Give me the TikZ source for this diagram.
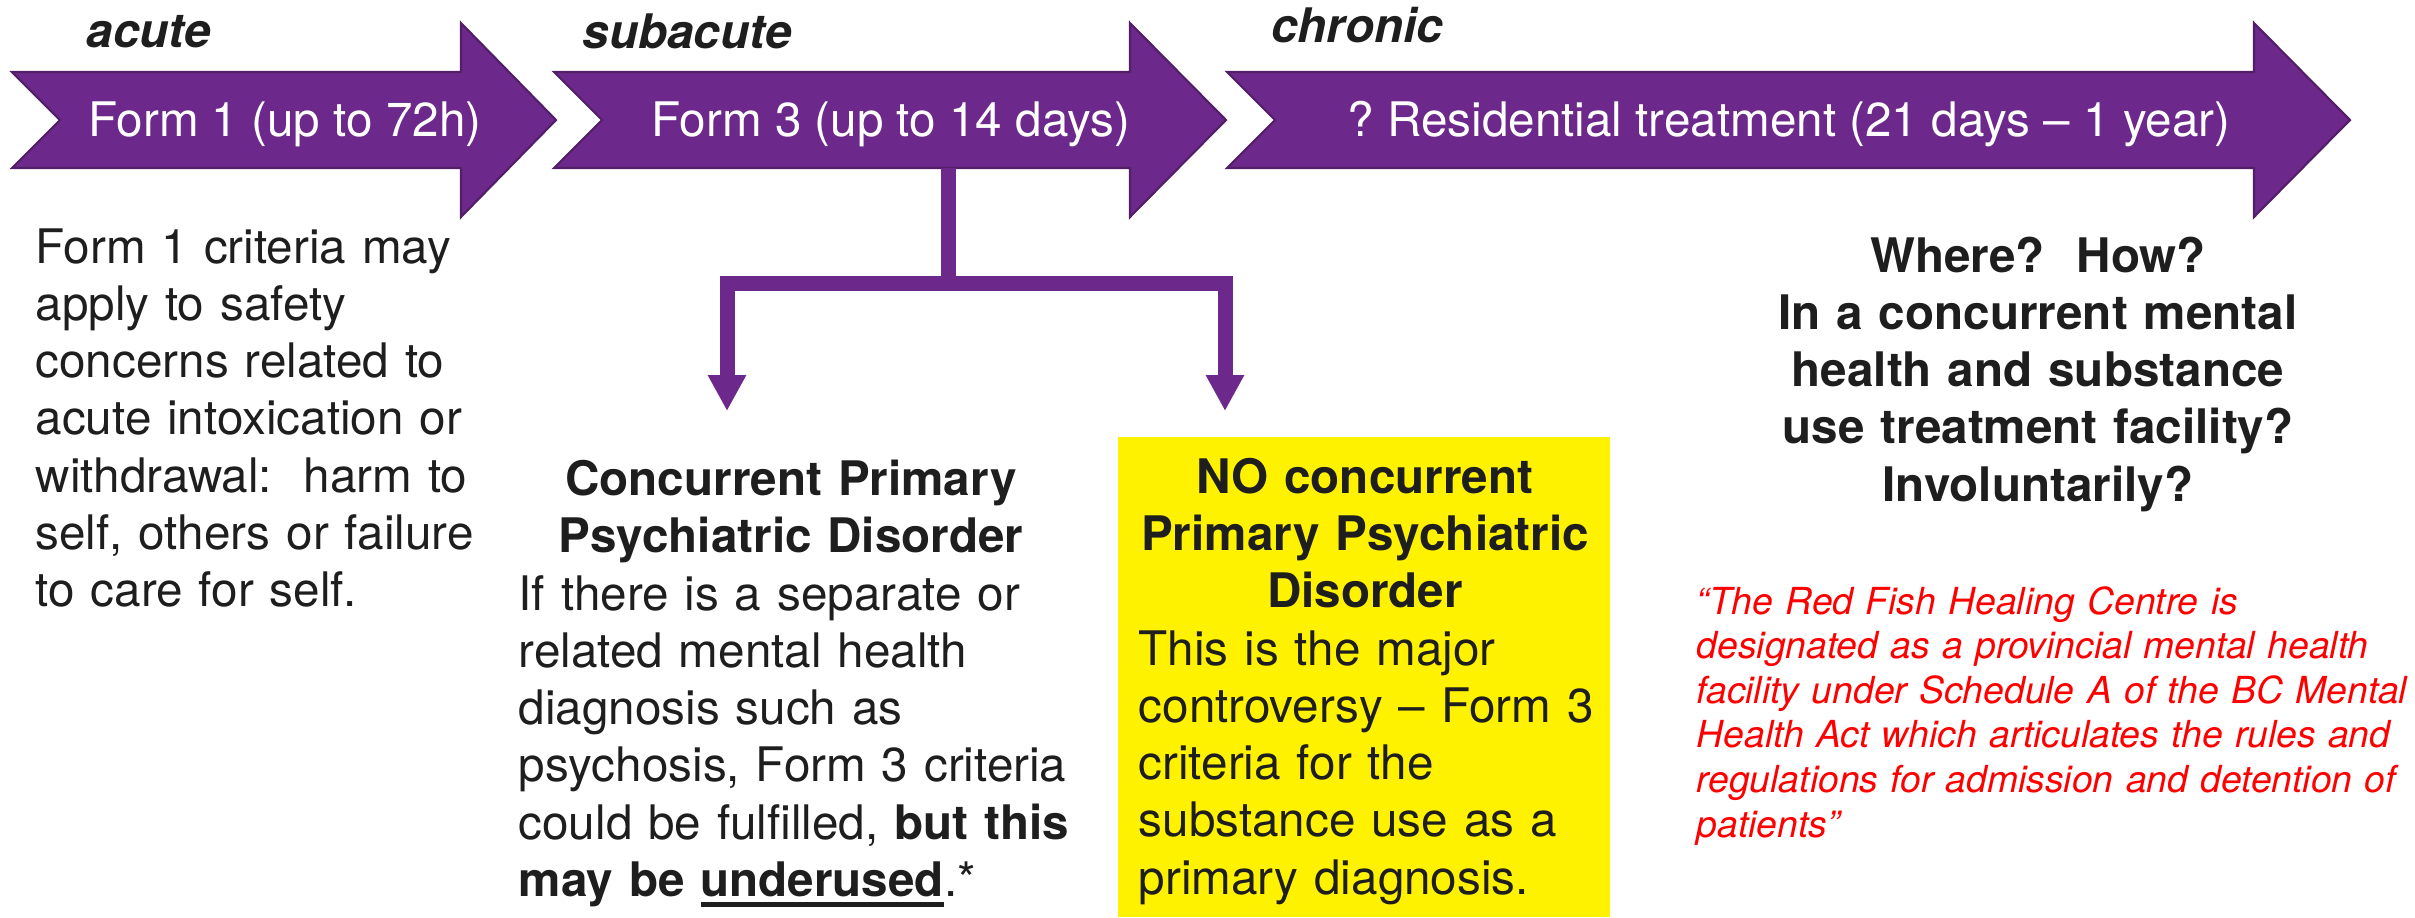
\documentclass[tikz,border=0pt]{standalone}
\usepackage{fontspec}
\setmainfont{TeX Gyre Heros}
\usepackage{xcolor}
\usepackage{tikz}
\usetikzlibrary{arrows.meta,positioning}

\definecolor{chevpurple}{RGB}{108,40,138}
\definecolor{inktext}{RGB}{30,30,30}
\newcommand{\thickul}[1]{\setbox0\hbox{#1}\rlap{\rule[-3.1pt]{\wd0}{1.4pt}}\box0}

\begin{document}
\begin{tikzpicture}[
    chevron/.style={fill=chevpurple, draw=chevpurple!75!black, line width=0.6pt},
    chevtext/.style={text=white, inner sep=0pt, font=\fontsize{13.55}{16.3}\selectfont},
    stage/.style={anchor=base west, text=inktext, inner sep=0pt, font=\fontsize{13.55}{16.3}\selectfont\bfseries\itshape},
    bodytext/.style={anchor=base west, align=left, text=inktext, inner sep=0pt, font=\fontsize{13.55}{16.3}\selectfont},
    headtext/.style={anchor=base, align=center, text=inktext, inner sep=0pt, font=\fontsize{13.55}{16.3}\selectfont\bfseries},
    quotetext/.style={anchor=base west, align=left, text=red, inner sep=0pt, font=\fontsize{10.6}{12.7}\selectfont\itshape},
    ybox/.style={fill=yellow, minimum width=4.92cm, minimum height=4.80cm, inner sep=0pt},
    link/.style={draw=chevpurple, line width=1.5mm, line join=miter},
    linkarrow/.style={link, -{Triangle[width=3.6mm,length=3.6mm]}}
]
\useasboundingbox (0,0) rectangle (24.15,-9.17);

% Chevrons
\path[chevron] (0.12,-0.72) -- (4.61,-0.72) -- (4.61,-0.23) -- (5.56,-1.20) -- (4.61,-2.17) -- (4.61,-1.68) -- (0.12,-1.68) -- (0.60,-1.20) -- cycle;
\path[chevron] (5.54,-0.72) -- (11.30,-0.72) -- (11.30,-0.23) -- (12.26,-1.20) -- (11.30,-2.17) -- (11.30,-1.68) -- (5.54,-1.68) -- (6.02,-1.20) -- cycle;
\path[chevron] (12.27,-0.72) -- (22.54,-0.72) -- (22.54,-0.23) -- (23.50,-1.20) -- (22.54,-2.17) -- (22.54,-1.68) -- (12.27,-1.68) -- (12.75,-1.20) -- cycle;

\node[chevtext] (form1) at (2.85,-1.24) {Form 1 (up to 72h)};
\node[chevtext] (form3) at (8.91,-1.24) {Form 3 (up to 14 days)};
\node[chevtext] (resid) at (17.89,-1.24) {?\ Residential treatment (21 days -- 1 year)};

% Stage labels
\node[stage] (acute) at (0.86,-0.47) {acute};
\node[stage] (subacute) at (5.82,-0.48) {subacute};
\node[stage] (chronic) at (12.71,-0.42) {chronic};

% Form 1 criteria
\node[bodytext, text width=5cm] (crit1) at (0.35,-2.63) {Form 1 criteria may\\ apply to safety\\ concerns related to\\ acute intoxication or\\ withdrawal:\ \ harm to\\ self, others or failure\\ to care for self.};

% Concurrent disorder
\node[headtext, text width=6cm] (concur) at (7.91,-4.95) {Concurrent Primary\\ Psychiatric Disorder};
\node[bodytext, text width=6cm] (concurtxt) at (5.18,-6.10) {If there is a separate or\\ related mental health\\ diagnosis such as\\ psychosis, Form 3 criteria\\ could be fulfilled, \textbf{but this}\\ \textbf{may be \thickul{underused}}.*};

% NO concurrent disorder
\node[ybox] (nobox) at (13.64,-6.77) {};
\node[headtext, text width=4.8cm] (nohead) at (13.65,-4.93) {NO concurrent\\ Primary Psychiatric\\ Disorder};
\node[bodytext, text width=4.8cm] (notxt) at (11.38,-6.65) {This is the major\\ controversy -- Form 3\\ criteria for the\\ substance use as a\\ primary diagnosis.};

% Chronic questions
\node[headtext, text width=7cm] (where) at (20.38,-2.72) {Where?\ \ How?\\ In a concurrent mental\\ health and substance\\ use treatment facility?\\ Involuntarily?};
\node[quotetext, text width=7.6cm] (quote) at (16.96,-6.14) {“The Red Fish Healing Centre is\\ designated as a provincial mental health\\ facility under Schedule A of the BC Mental\\ Health Act which articulates the rules and\\ regulations for admission and detention of\\ patients”};

% Arrows
\coordinate (stem) at (9.48,-1.68);
\coordinate (lbar) at (7.27,-2.83);
\coordinate (rbar) at (12.25,-2.83);
\coordinate (ltip) at (7.27,-4.11);
\coordinate (rtip) at (12.25,-4.11);
\draw[linkarrow] (stem) |- (lbar) -- (ltip);
\draw[linkarrow] (stem) |- (rbar) -- (rtip);

\end{tikzpicture}
\end{document}
